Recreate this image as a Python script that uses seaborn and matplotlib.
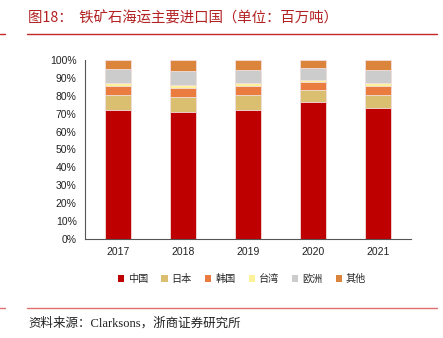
import numpy as np
import pandas as pd
import matplotlib
matplotlib.use("Agg")
import matplotlib.pyplot as plt
import seaborn as sns
from matplotlib.patches import Patch
from matplotlib.lines import Line2D

years = ["2017", "2018", "2019", "2020", "2021"]
series_names = ["中国", "日本", "韩国", "台湾", "欧洲", "其他"]
china = [72.0, 71.1, 72.1, 76.4, 73.0]
japan = [8.7, 8.4, 8.5, 6.7, 7.6]
korea = [5.0, 5.0, 5.0, 4.6, 4.7]
taiwan = [1.6, 1.7, 1.6, 1.3, 1.9]
europe = [7.8, 7.8, 7.4, 6.5, 7.0]
others = [4.9, 6.0, 5.4, 4.5, 5.8]
colors = ["#BE0000", "#DBBF70", "#EB7C40", "#FDF29A", "#CCCCCC", "#DB853C"]
ytick_labels = ["0%", "10%", "20%", "30%", "40%", "50%", "60%", "70%", "80%", "90%", "100%"]

sns.set_theme(style="white")
plt.rcParams['font.family'] = ['Liberation Sans', 'Noto Sans CJK SC', 'DejaVu Sans']

fig = plt.figure(figsize=(4.43, 3.38), dpi=100)
ax = fig.add_axes([85/443, 1-239/338, (411-85)/443, (239-60)/338])

values = [china, japan, korea, taiwan, europe, others]
arr = np.array(values)
cum = np.cumsum(arr, axis=0)
tot = cum[-1]
cum = cum / tot * 100.0

for i in range(len(series_names) - 1, -1, -1):
    df = pd.DataFrame({"year": years, "v": cum[i]})
    sns.barplot(data=df, x="year", y="v", color=colors[i], width=0.4,
                saturation=1, ax=ax, edgecolor="#F2E0E0", linewidth=0.6)

ax.set_xlim(-0.5, 4.5)
ax.set_ylim(0, 100)
ax.set_yticks(np.arange(0, 101, 10))
ax.set_yticklabels(ytick_labels, fontsize=7.5, color="#222222")
ax.set_xlabel("")
ax.set_ylabel("")
ax.tick_params(axis="x", which="major", length=0, labelsize=7.5, pad=6, colors="#222222")
ax.set_xticks(np.arange(-0.5, 5, 1.0), minor=True)
ax.tick_params(axis="x", which="minor", length=3, width=0.8, direction="out", color="#555555")
ax.tick_params(axis="y", which="major", length=3, width=0.8, direction="out", color="#555555", pad=3)
for s in ["top", "right"]:
    ax.spines[s].set_visible(False)
for s in ["left", "bottom"]:
    ax.spines[s].set_color("#555555")
    ax.spines[s].set_linewidth(0.8)

handles = [Patch(facecolor=c, edgecolor="none") for c in colors]
leg = fig.legend(handles, series_names, loc="center", bbox_to_anchor=(242/443, 1-279/338),
                 ncol=6, frameon=False, handlelength=0.6, handleheight=0.6,
                 handletextpad=0.4, columnspacing=1.3,
                 prop={'family': ['Noto Sans CJK SC'], 'size': 7.3})

fig.text(28/443, 1-18/338, "图18：  铁矿石海运主要进口国（单位：百万吨）", color="#B22222",
         fontsize=10.4, va="center", ha="left", family=['Noto Sans CJK SC'])
fig.add_artist(Line2D([27/443, 437/443], [1-34/338, 1-34/338], color="#C0282A", lw=1.0))
fig.add_artist(Line2D([0, 5/443], [1-34/338, 1-34/338], color="#C0282A", lw=1.0))
fig.add_artist(Line2D([27/443, 437/443], [1-308/338, 1-308/338], color="#E07070", lw=1.0))
fig.add_artist(Line2D([0, 5/443], [1-308/338, 1-308/338], color="#E07070", lw=1.0))
fig.text(28/443, 1-323/338, "资料来源：Clarksons，浙商证券研究所", color="#222222",
         fontsize=9, va="center", ha="left", family=['Liberation Serif', 'Noto Sans CJK SC'])

fig.savefig("out.png", dpi=100)
